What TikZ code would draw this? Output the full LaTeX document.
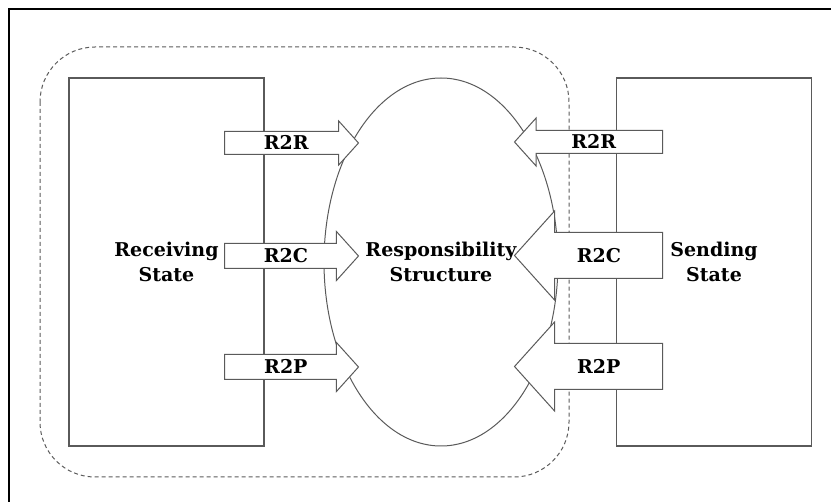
\documentclass[tikz,border=0pt]{standalone}
\usepackage{fontspec}
\setmainfont{DejaVu Serif}
\usetikzlibrary{shapes.geometric,shapes.arrows}
\definecolor{linegray}{HTML}{5A5A5A}
\tikzset{
  labelfont/.style={font=\bfseries\fontsize{19}{25}\selectfont},
  statebox/.style={draw=linegray, line width=1.2pt, minimum width=195pt, minimum height=368pt, align=center, labelfont},
  blockarrow/.style 2 args={single arrow, draw=linegray, fill=white, line width=1pt, labelfont,
    text height=14pt, text depth=0pt, inner xsep=2pt, inner ysep=#1, single arrow head extend=#2,
    single arrow tip angle=96, minimum width=0pt},
}
\begin{document}
\begin{tikzpicture}[x=1pt, y=-1pt]
    \useasboundingbox (0,0) rectangle (831,502);
    \draw[black, line width=1.5pt] (9,9) rectangle (845,515);
    \draw[linegray, line width=1pt, dash pattern=on 4pt off 3pt, rounded corners=55pt] (40,47) rectangle (569,477);
    \node[statebox] (recv) at (166.5,262) {Receiving\\State};
    \node[statebox] (send) at (714,262) {Sending\\State};
    \node[ellipse, draw=linegray, line width=1pt, minimum width=234pt, minimum height=368pt, inner sep=0pt, align=center, labelfont] (resp) at (441,262) {Responsibility\\Structure};
    % receiving side
    \node[blockarrow={4pt}{10.5pt}, minimum height=134pt, anchor=tail] (rtor) at (224,143) {R2R};
    \node[blockarrow={5pt}{12pt}, minimum height=134pt, anchor=tail] (rtoc) at (224,256) {R2C};
    \node[blockarrow={5pt}{12pt}, minimum height=134pt, anchor=tail] (rtop) at (224,367) {R2P};
    % sending side
    \node[blockarrow={4pt}{12.5pt}, shape border rotate=180, minimum height=148pt, anchor=tail] (str) at (663,142) {R2R};
    \node[blockarrow={15.5pt}{21.5pt}, shape border rotate=180, minimum height=148pt, anchor=tail] (stc) at (663,255.5) {R2C};
    \node[blockarrow={15.5pt}{21.5pt}, shape border rotate=180, minimum height=148pt, anchor=tail] (stp) at (663,366.5) {R2P};
\end{tikzpicture}
\end{document}
